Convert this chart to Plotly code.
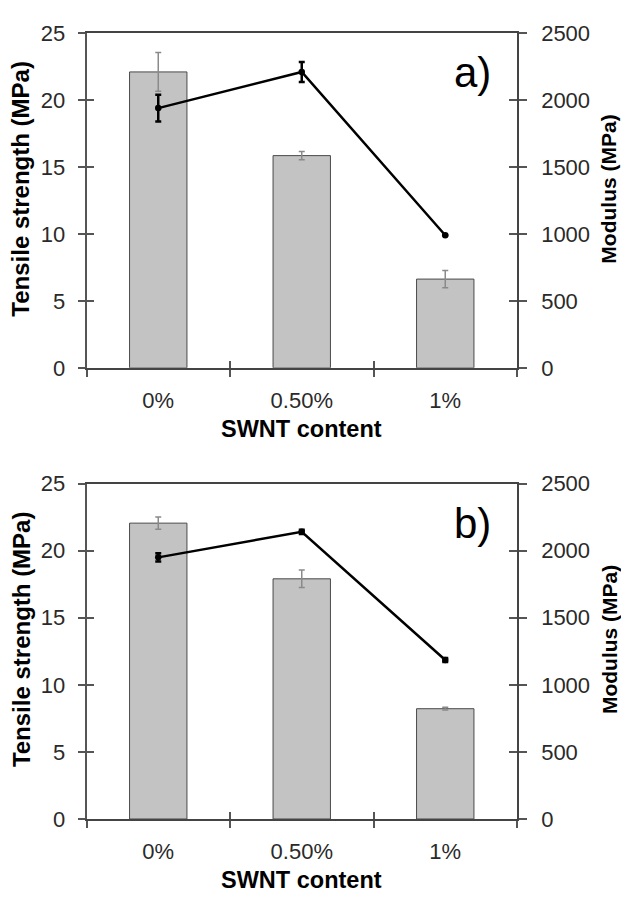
import plotly.graph_objects as go

W, H = 621, 902

categories = ["0%", "0.50%", "1%"]

# Panel a
strength_a = [22.1, 15.85, 6.63]
strength_err_a = [1.45, 0.3, 0.65]
modulus_a = [1940, 2210, 990]
modulus_err_a = [100, 75, 0]

# Panel b
strength_b = [22.05, 17.9, 8.22]
strength_err_b = [0.45, 0.65, 0.1]
modulus_b = [1950, 2140, 1185]
modulus_err_b = [30, 15, 15]

left_ticks = [0, 5, 10, 15, 20, 25]
right_ticks = [0, 500, 1000, 1500, 2000, 2500]
boundaries = [-0.5, 0.5, 1.5, 2.5]

FONT = "Liberation Sans, Arial, sans-serif"
TICKCOL = "#2a2a2a"
AXCOL = "#555555"

x0, x1 = 86.5, 517.0
panels = [(21.7, 366.0), (485.0, 830.0)]


def py(p):
    return 1 - p / H


def key(a):
    base = "xaxis" if a[0] == "x" else "yaxis"
    return base + a[1:]


fig = go.Figure()

data = [(strength_a, strength_err_a, modulus_a, modulus_err_a),
        (strength_b, strength_err_b, modulus_b, modulus_err_b)]

# main x, left y, right y, overlay x (inside ticks), overlay left y, overlay right y
axis_sets = [("x", "y", "y2", "x3", "y5", "y6"), ("x2", "y3", "y4", "x4", "y7", "y8")]

for (s, se, m, me), (xa, yl, yr, xo, ylo, yro) in zip(data, axis_sets):
    fig.add_trace(go.Bar(
        x=categories, y=s, xaxis=xa, yaxis=yl, width=0.4,
        marker=dict(color="#c3c3c3", line=dict(color="#4a4a4a", width=1)),
        error_y=dict(type="data", array=se, visible=True, color="#8a8a8a", thickness=1.5, width=3),
        showlegend=False, hoverinfo="skip"))
    fig.add_trace(go.Scatter(
        x=categories, y=m, xaxis=xa, yaxis=yr, mode="lines+markers",
        line=dict(color="black", width=2.5),
        marker=dict(color="black", size=6.5),
        error_y=dict(type="data", array=me, visible=True, color="black", thickness=2.5, width=3),
        showlegend=False, hoverinfo="skip"))
    # empty helper traces so that the overlay tick axes get drawn
    for ax_x, ax_y in [(xo, yl), (xa, ylo), (xa, yro)]:
        fig.add_trace(go.Scatter(x=[None], y=[None], xaxis=ax_x, yaxis=ax_y, mode="markers",
                                 showlegend=False, hoverinfo="skip"))

layout = dict(
    width=W, height=H, margin=dict(l=0, r=0, t=0, b=0),
    paper_bgcolor="white", plot_bgcolor="white", showlegend=False,
    font=dict(family=FONT, color=TICKCOL, size=22),
)


def add_panel(idx, top, bot):
    xa, yl, yr, xo, ylo, yro = axis_sets[idx]
    dom_x = [x0 / W, x1 / W]
    dom_y = [py(bot), py(top)]
    layout[key(xa)] = dict(
        domain=dom_x, anchor=yl, type="category", categoryarray=categories,
        categoryorder="array", range=[-0.5, 2.5],
        showline=True, linecolor="#444444", linewidth=1.5, mirror=True,
        ticks="outside", tickson="boundaries", ticklen=7, tickwidth=1.5, tickcolor=AXCOL,
        tickfont=dict(size=22, color=TICKCOL), showgrid=False, zeroline=False,
        ticklabelstandoff=12, fixedrange=True)
    layout[key(xo)] = dict(
        domain=dom_x, anchor=yl, overlaying=xa, range=[-0.5, 2.5], type="linear",
        tickvals=boundaries, showticklabels=False, ticks="inside", ticklen=7,
        tickwidth=1.5, tickcolor=AXCOL, showline=False, showgrid=False, zeroline=False)
    layout[key(yl)] = dict(
        domain=dom_y, anchor=xa, range=[0, 25], tickvals=left_ticks,
        showline=True, linecolor=AXCOL, linewidth=1.5,
        ticks="outside", ticklen=7, tickwidth=1.5, tickcolor=AXCOL,
        tickfont=dict(size=22, color=TICKCOL), showgrid=False, zeroline=False,
        ticklabelstandoff=8)
    layout[key(ylo)] = dict(
        domain=dom_y, anchor=xa, overlaying=yl, range=[0, 25], tickvals=left_ticks,
        showticklabels=False, ticks="inside", ticklen=7, tickwidth=1.5, tickcolor=AXCOL,
        showline=False, showgrid=False, zeroline=False)
    layout[key(yr)] = dict(
        domain=dom_y, anchor=xa, overlaying=yl, side="right", range=[0, 2500],
        tickvals=right_ticks, showline=True, linecolor="#444444", linewidth=1.5,
        ticks="outside", ticklen=8, tickwidth=1.5, tickcolor=AXCOL,
        tickfont=dict(size=22, color=TICKCOL), showgrid=False, zeroline=False,
        ticklabelstandoff=10)
    layout[key(yro)] = dict(
        domain=dom_y, anchor=xa, overlaying=yl, side="right", range=[0, 2500],
        tickvals=right_ticks, showticklabels=False, ticks="inside", ticklen=8,
        tickwidth=1.5, tickcolor=AXCOL, showline=False, showgrid=False, zeroline=False)


for i, (t, b) in enumerate(panels):
    add_panel(i, t, b)

annotations = []
for (t, b), lab in zip(panels, ["a)", "b)"]):
    annotations.append(dict(text="<b>Tensile strength (MPa)</b>", xref="paper", yref="paper",
                            x=21 / W, y=py(t + 160), textangle=-90, showarrow=False,
                            font=dict(size=24, color="black", family=FONT),
                            xanchor="center", yanchor="middle"))
    annotations.append(dict(text="<b>Modulus (MPa)</b>", xref="paper", yref="paper",
                            x=609 / W, y=py(t + 161), textangle=-90, showarrow=False,
                            font=dict(size=21, color="black", family=FONT),
                            xanchor="center", yanchor="middle"))
    annotations.append(dict(text="<b>SWNT content</b>", xref="paper", yref="paper",
                            x=(x0 + x1) / 2 / W, y=py(b + 63), showarrow=False,
                            font=dict(size=23.5, color="black", family=FONT),
                            xanchor="center", yanchor="middle"))
    annotations.append(dict(text=lab, xref="paper", yref="paper",
                            x=472 / W, y=py(t + 41), showarrow=False,
                            font=dict(size=42, color="black", family=FONT),
                            xanchor="center", yanchor="middle"))
layout["annotations"] = annotations

fig.update_layout(**layout)
fig.write_html("out.html")
